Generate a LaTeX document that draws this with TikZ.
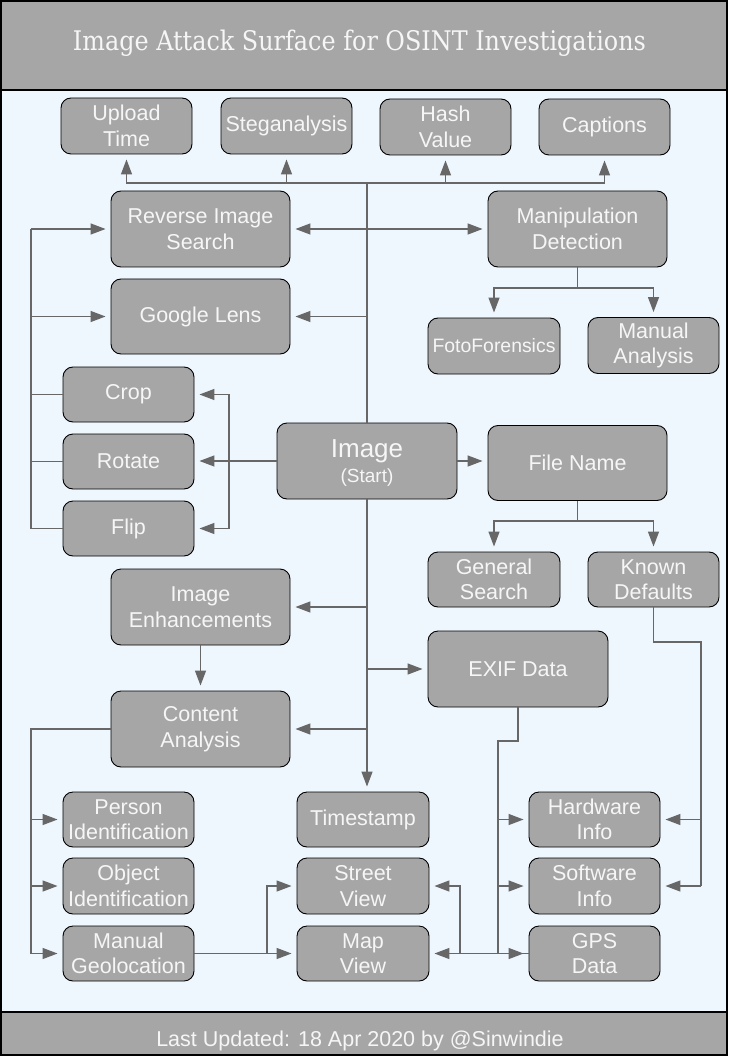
\documentclass[tikz,border=0pt]{standalone}
\usepackage{fontspec}
\setmainfont{Liberation Sans}
\newfontfamily\titlefont{DejaVu Serif}
\usetikzlibrary{arrows.meta}
\definecolor{boxgray}{HTML}{A6A6A6}
\definecolor{bodybg}{HTML}{EEF6FE}
\definecolor{linegray}{HTML}{676767}
\definecolor{txt}{HTML}{F6F6F6}
\begin{document}
\begin{tikzpicture}[x=1pt,y=-1pt,
  box/.style={draw=black, line width=0.9pt, fill=boxgray, rounded corners=10pt,
    text=txt, align=center, inner sep=0pt, font=\fontsize{21.5}{25.5}\selectfont},
  smallbox/.style={box, minimum width=131pt, minimum height=55pt},
  bigbox/.style={box, minimum width=179pt, minimum height=76pt},
  conn/.style={draw=linegray, line width=1.3pt},
  arr/.style={conn, -{Triangle[length=15pt,width=11pt]}, shorten >=5pt}
]
\useasboundingbox (0,0) rectangle (728,1056);
% backgrounds
\fill[bodybg] (0,90) rectangle (728,1012);
\fill[boxgray] (0,0) rectangle (728,90);
\fill[boxgray] (0,1012) rectangle (728,1056);
\draw[black, line width=1.5pt] (0,90) -- (728,90);
\draw[black, line width=1.5pt] (0,1012) -- (728,1012);
\draw[black, line width=2pt] (1,1) rectangle (727,1055);

\node[anchor=base, text=txt, inner sep=0pt] (title) at (359.5,51)
  {\resizebox{573pt}{\height}{\titlefont\fontsize{27}{30}\selectfont Image Attack Surface for OSINT Investigations}};
\node[anchor=base, text=txt, inner sep=0pt, font=\fontsize{21.5}{25}\selectfont] (footer) at (360,1046)
  {Last Updated: 18 Apr 2020 by @Sinwindie};

% nodes
\node[smallbox, minimum height=56pt] (up) at (126.5,126) {Upload\\Time};
\node[smallbox, minimum height=56pt] (steg) at (286.5,126) {Steganalysis};
\node[smallbox, minimum height=56pt] (hash) at (445.5,127) {Hash\\Value};
\node[smallbox, minimum height=56pt] (capt) at (604.5,127) {Captions};

\node[bigbox] (ris) at (200.5,229) {Reverse Image\\Search};
\node[bigbox, minimum height=75pt] (gl) at (200.5,316.5) {Google Lens};
\node[bigbox] (md) at (577.5,229) {Manipulation\\Detection};

\node[smallbox, minimum width=132pt, minimum height=56pt, font=\fontsize{19.4}{23}\selectfont] (foto) at (494,346) {FotoForensics};
\node[smallbox, minimum height=56pt] (mana) at (653.5,345.5) {Manual\\Analysis};

\node[smallbox] (crop) at (128.5,394.5) {Crop};
\node[smallbox] (rot) at (128.5,461.5) {Rotate};
\node[smallbox] (flip) at (128.5,528.5) {Flip};

\node[bigbox, minimum width=180pt] (img) at (367,461)
  {\raisebox{-4pt}[\height][\depth]{\begin{tabular}{@{}c@{}}\fontsize{26}{22}\selectfont Image\\[-1pt]\fontsize{19}{22}\selectfont (Start)\end{tabular}}};
\node[bigbox, minimum height=75pt] (fn) at (577.5,463) {File Name};
\node[smallbox, minimum width=132pt] (gs) at (494,579.5) {General\\Search};
\node[smallbox] (kd) at (653.5,579.5) {Known\\Defaults};

\node[bigbox] (ie) at (200.5,607) {Image\\Enhancements};
\node[bigbox, minimum width=180pt] (exif) at (518,669) {EXIF Data};
\node[bigbox] (ca) at (200.5,729) {Content\\Analysis};

\node[smallbox] (pi) at (128.5,819.5) {Person\\Identification};
\node[smallbox, minimum height=56pt] (oi) at (128.5,886) {Object\\Identification};
\node[smallbox] (mg) at (128.5,953.5) {Manual\\Geolocation};

\node[smallbox, minimum width=132pt] (ts) at (363,819.5) {Timestamp};
\node[smallbox, minimum width=132pt, minimum height=56pt] (sv) at (363,886) {Street\\View};
\node[smallbox, minimum width=132pt] (mv) at (363,953.5) {Map\\View};

\node[smallbox] (hw) at (594.5,819.5) {Hardware\\Info};
\node[smallbox, minimum height=56pt] (sw) at (594.5,886) {Software\\Info};
\node[smallbox] (gps) at (594.5,953.5) {GPS\\Data};

% trunk top
\coordinate (top) at (367,183);
\draw[conn] (img.north) -- (top);
\draw[arr] (top) -| (up.south);
\draw[arr] (top) -| (steg.south);
\draw[arr] (top) -| (hash.south);
\draw[arr] (top) -| (capt.south);
\draw[arr] (img.north |- ris.east) -- (ris.east);
\draw[arr] (img.north |- md.west) -- (md.west);
\draw[arr] (img.north |- gl.east) -- (gl.east);

% left bus (transforms)
\coordinate (lb) at (31,0);
\draw[conn] (flip.west) -- (flip.west -| lb) -- (lb |- ris.west);
\draw[conn] (crop.west) -- (crop.west -| lb);
\draw[conn] (rot.west) -- (rot.west -| lb);
\draw[arr] (lb |- ris.west) -- (ris.west);
\draw[arr] (lb |- gl.west) -- (gl.west);

% image to transforms
\coordinate (rb) at (229,0);
\draw[arr] (img.west) -- (img.west -| rot.east);
\draw[arr] (rb |- img.west) |- (crop.east);
\draw[arr] (rb |- img.west) |- (flip.east);

% manipulation detection split
\coordinate (mdj) at (577.5,288);
\draw[conn] (md.south) -- (mdj);
\draw[arr] (mdj) -| (foto.north);
\draw[arr] (mdj) -| (mana.north);

% file name
\draw[arr] (img.east) -- (img.east -| fn.west);
\coordinate (fnj) at (577.5,521);
\draw[conn] (fn.south) -- (fnj);
\draw[arr] (fnj) -| (gs.north);
\draw[arr] (fnj) -| (kd.north);

% trunk bottom
\draw[arr] (img.south) -- (img.south |- ts.north);
\draw[arr] (img.south |- ie.east) -- (ie.east);
\draw[arr] (img.south |- exif.west) -- (exif.west);
\draw[arr] (img.south |- ca.east) -- (ca.east);
\draw[arr] (ie.south) -- (ca.north);

% content analysis bus
\draw[conn] (ca.west) -- (ca.west -| lb) -- (lb |- mg.west);
\draw[arr] (lb |- pi.west) -- (pi.west);
\draw[arr] (lb |- oi.west) -- (oi.west);
\draw[arr] (lb |- mg.west) -- (mg.west);

% geolocation to views
\draw[arr] (mg.east) -- (mv.west);
\coordinate (mgj) at (267,953.5);
\draw[arr] (mgj) |- (sv.west);
\draw[arr] (gps.west) -- (mv.east);
\coordinate (gj) at (460,953.5);
\draw[arr] (gj) |- (sv.east);

% exif bus
\coordinate (ej) at (518,741);
\coordinate (eb) at (498,741);
\draw[conn] (exif.south) -- (ej) -- (eb) -- (eb |- gps.west);
\draw[arr] (eb |- hw.west) -- (hw.west);
\draw[arr] (eb |- sw.west) -- (sw.west);
\draw[arr] (eb |- gps.west) -- (gps.west);

% known defaults bus
\coordinate (kj) at (653.5,642);
\coordinate (kb) at (701,642);
\draw[conn] (kd.south) -- (kj) -- (kb) -- (kb |- sw.east);
\draw[arr] (kb |- hw.east) -- (hw.east);
\draw[arr] (kb |- sw.east) -- (sw.east);
\end{tikzpicture}
\end{document}
